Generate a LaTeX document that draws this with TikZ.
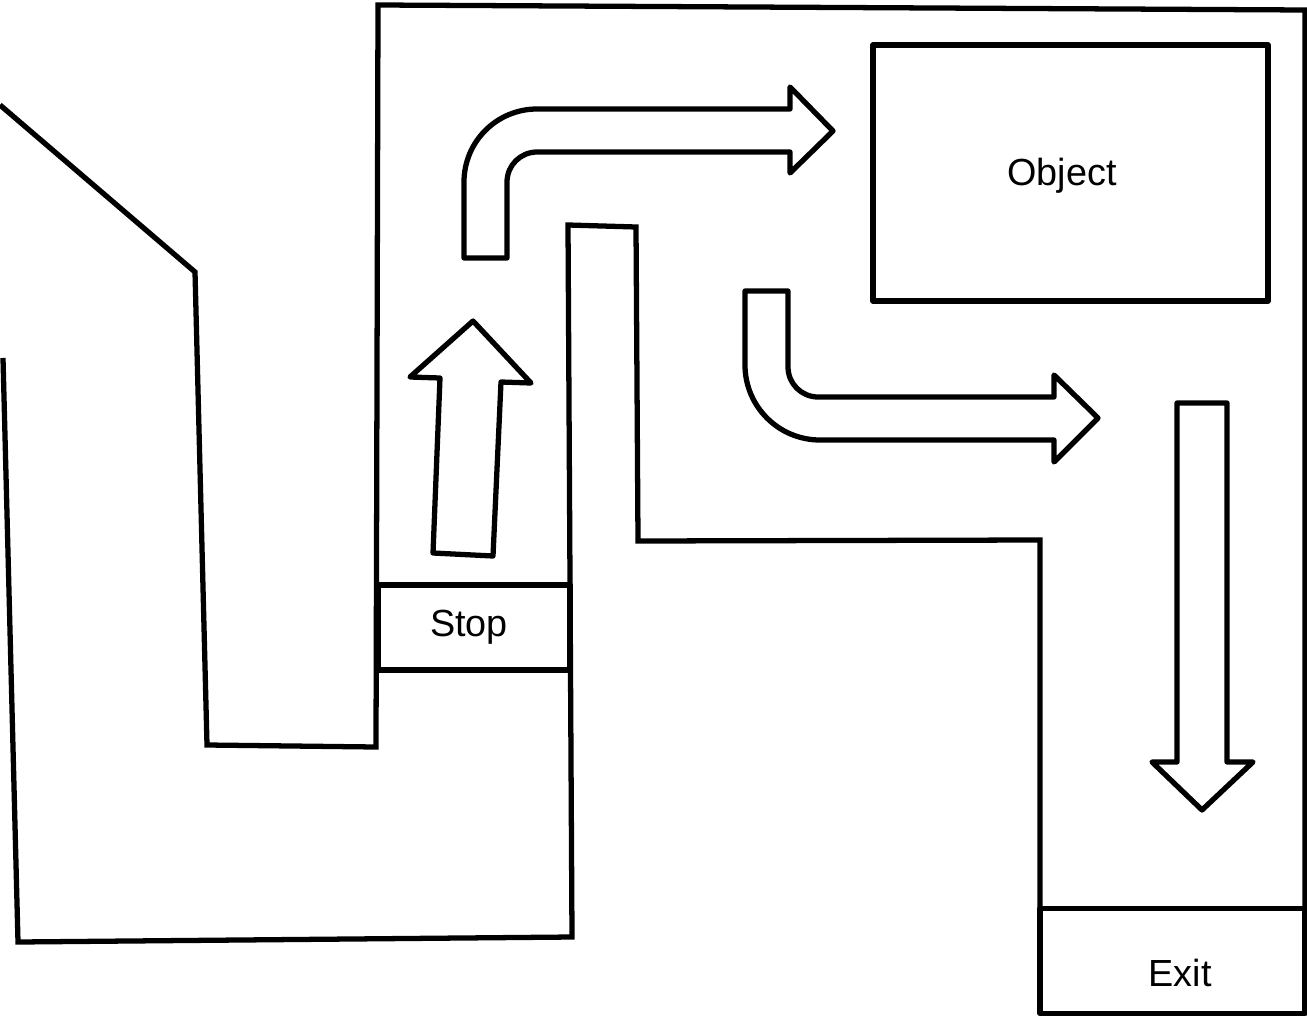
\documentclass[tikz,border=0pt]{standalone}
\usepackage{fontspec}
\setmainfont{Liberation Sans}
\begin{document}
\begin{tikzpicture}[x=0.02cm, y=-0.02cm, line width=3pt,
    wall/.style={line join=miter},
    arrowshape/.style={line join=round},
    box/.style={draw, rectangle, inner sep=0pt, line join=round},
    boxlabel/.style={inner sep=0pt, font=\fontsize{21.5}{25}\selectfont}]
    \useasboundingbox (0,0) rectangle (1307,1017);

    % Outer walls
    \draw[wall] (0,105) -- (195,272) -- (207,745) -- (376,747) -- (378,5)
        -- (1305,10) -- (1305,910);
    \draw[wall] (3,358) -- (18,942) -- (572,937) -- (568,225) -- (636,227)
        -- (638,541) -- (1040,540) -- (1040,910);

    % Labelled boxes
    \node[box, minimum width=3.84cm, minimum height=1.7cm] (stop) at (474,627.5) {};
    \node[box, minimum width=7.9cm, minimum height=5.12cm] (object) at (1070.5,173) {};
    \node[box, minimum width=5.3cm, minimum height=2.1cm] (exit) at (1172.5,961) {};
    \node[boxlabel] (stoplabel) at (469,627) {Stop};
    \node[boxlabel] (objectlabel) at (1062,176) {Object};
    \node[boxlabel] (exitlabel) at (1180,973) {Exit};

    % Up arrow above the stop box
    \draw[arrowshape] (433,553) -- (440,378) -- (410,377) -- (473,321) -- (531,383)
        -- (501,382) -- (493,556) -- cycle;

    % Bent arrow towards the object
    \draw[arrowshape] (464,258) -- (464,182) arc[start angle=180, end angle=270, radius=73]
        -- (790,109) -- (790,87) -- (833,131) -- (790,173) -- (790,152) -- (537,152)
        arc[start angle=270, end angle=180, radius=30] -- (507,258) -- cycle;

    % Bent arrow away from the object
    \draw[arrowshape] (745,291) -- (745,365) arc[start angle=180, end angle=90, radius=75]
        -- (1054,440) -- (1054,462) -- (1098,418) -- (1054,375) -- (1054,397) -- (818,397)
        arc[start angle=90, end angle=180, radius=30] -- (788,291) -- cycle;

    % Down arrow to the exit
    \draw[arrowshape] (1177,403) -- (1177,762) -- (1152,762) -- (1202,810) -- (1253,762)
        -- (1227,762) -- (1227,403) -- cycle;
\end{tikzpicture}
\end{document}
